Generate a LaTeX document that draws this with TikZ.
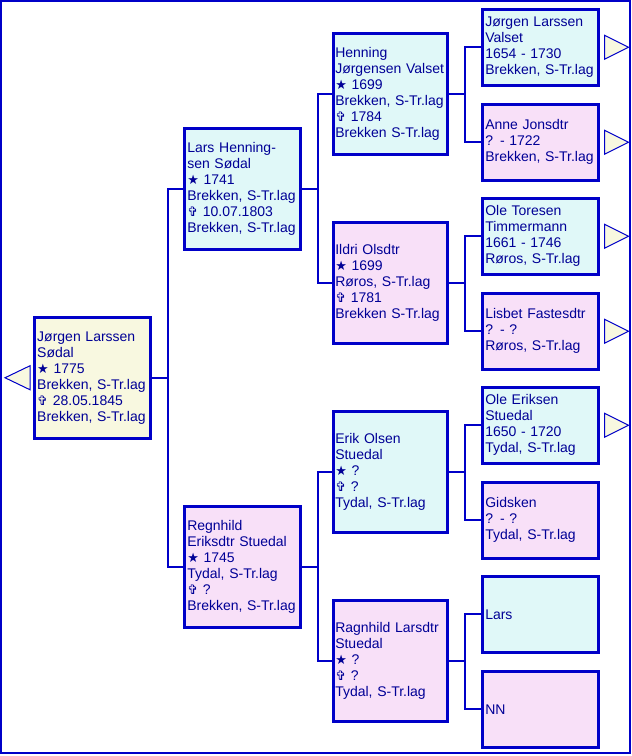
\documentclass[tikz,border=0pt]{standalone}
\usepackage{fontspec}
\setmainfont{Liberation Sans}
\newfontfamily\symfont{DejaVu Sans}
\usepackage{xcolor}
\usepackage{tikz}

\definecolor{lineblue}{RGB}{0,0,200}
\definecolor{textblue}{RGB}{0,0,150}
\definecolor{rootfill}{RGB}{248,248,224}
\definecolor{malefill}{RGB}{224,248,248}
\definecolor{femalefill}{RGB}{248,224,248}
\newcommand{\bornsym}{{\symfont\fontsize{13}{16}\selectfont ★}}
\newcommand{\diedsym}{{\symfont\fontsize{13}{16}\selectfont ✞}}

\tikzset{
  person/.style={draw=lineblue, line width=2.5pt, text=textblue, anchor=north west,
    align=left, inner xsep=3pt, font=\fontsize{14}{16}\selectfont},
  bigbox/.style={person, minimum height=121pt, text width=110pt},
  smallbox/.style={person, minimum height=76pt, text width=110pt},
  link/.style={draw=lineblue, line width=2pt},
  moretri/.style={draw=lineblue, line width=1pt, fill=rootfill, line join=miter}
}

\begin{document}
\begin{tikzpicture}[x=1pt,y=-1pt]
\useasboundingbox (0,0) rectangle (632,756);
% outer frame
\draw[lineblue, line width=2pt] (1,1) rectangle (630,753);

% Root person
\node[bigbox, fill=rootfill] (root) at (33,316) {J\o rgen Larssen\\S\o dal\\\bornsym\ 1775\\Brekken, S-Tr.lag\\\diedsym\ 28.05.1845\\Brekken, S-Tr.lag};

% Parents
\node[bigbox, fill=malefill] (lars) at (183,127) {Lars Henning-\\sen S\o dal\\\bornsym\ 1741\\Brekken, S-Tr.lag\\\diedsym\ 10.07.1803\\Brekken, S-Tr.lag};
\node[bigbox, fill=femalefill] (regnhild) at (183,505) {Regnhild\\Eriksdtr Stuedal\\\bornsym\ 1745\\Tydal, S-Tr.lag\\\diedsym\ ?\\Brekken, S-Tr.lag};

% Grandparents
\node[bigbox, fill=malefill, inner xsep=2pt] (henning) at (332,32) {Henning\\J\o rgensen Valset\\\bornsym\ 1699\\Brekken, S-Tr.lag\\\diedsym\ 1784\\Brekken S-Tr.lag};
\node[bigbox, fill=femalefill, inner xsep=2pt] (ildri) at (332,221) {Ildri Olsdtr\\\bornsym\ 1699\\R\o ros, S-Tr.lag\\\diedsym\ 1781\\Brekken S-Tr.lag};
\node[bigbox, fill=malefill, inner xsep=2pt] (erik) at (332,410) {Erik Olsen\\Stuedal\\\bornsym\ ?\\\diedsym\ ?\\Tydal, S-Tr.lag};
\node[bigbox, fill=femalefill, inner xsep=2pt] (ragnhild) at (332,599) {Ragnhild Larsdtr\\Stuedal\\\bornsym\ ?\\\diedsym\ ?\\Tydal, S-Tr.lag};

% Great-grandparents
\node[smallbox, fill=malefill] (jorgen) at (481,8) {J\o rgen Larssen\\Valset\\1654 - 1730\\Brekken, S-Tr.lag};
\node[smallbox, fill=femalefill] (anne) at (481,103) {Anne Jonsdtr\\? - 1722\\Brekken, S-Tr.lag};
\node[smallbox, fill=malefill] (oletor) at (481,197) {Ole Toresen\\Timmermann\\1661 - 1746\\R\o ros, S-Tr.lag};
\node[smallbox, fill=femalefill] (lisbet) at (481,292) {Lisbet Fastesdtr\\? - ?\\R\o ros, S-Tr.lag};
\node[smallbox, fill=malefill] (oleerik) at (481,386) {Ole Eriksen\\Stuedal\\1650 - 1720\\Tydal, S-Tr.lag};
\node[smallbox, fill=femalefill] (gidsken) at (481,481) {Gidsken\\? - ?\\Tydal, S-Tr.lag};
\node[smallbox, fill=malefill] (larsb) at (481,575) {Lars};
\node[smallbox, fill=femalefill] (nn) at (481,670) {NN};

% Connectors child -> parents
\foreach \c/\f/\m in {root/lars/regnhild, lars/henning/ildri, regnhild/erik/ragnhild,
    henning/jorgen/anne, ildri/oletor/lisbet, erik/oleerik/gidsken, ragnhild/larsb/nn} {
  \draw[link] (\c.east) -- ++(16,0) |- (\f.west);
  \draw[link] (\c.east) -- ++(16,0) |- (\m.west);
}

% More-ancestors triangles
\foreach \n in {jorgen, anne, oletor, lisbet, oleerik} {
  \draw[moretri] (\n.east) ++(5,-12) -- ++(24,12) -- ++(-24,12) -- cycle;
}
\draw[moretri] (root.west) ++(-3,-12) -- ++(-25,12) -- ++(25,12) -- cycle;
\end{tikzpicture}
\end{document}
